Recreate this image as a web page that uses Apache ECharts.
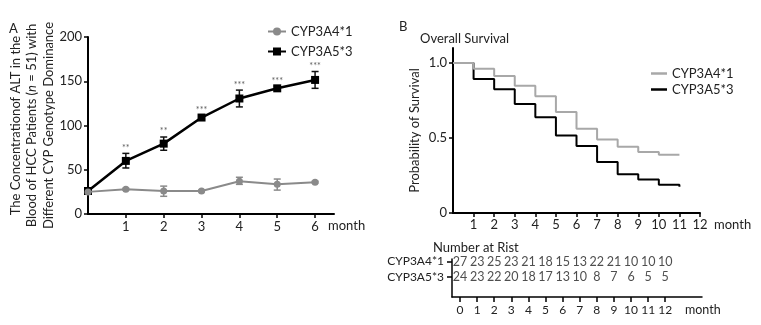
<!DOCTYPE html>
<html><head><meta charset="utf-8">
<script src="https://cdn.jsdelivr.net/npm/echarts@6/dist/echarts.min.js"></script>
<style>html,body{margin:0;padding:0;background:#fff}#c{width:761px;height:325px}</style>
</head><body><div id="c"></div>
<script>
// Panel A data (ALT concentration)
const months = [0, 1, 2, 3, 4, 5, 6];
const cyp5Mean = [26, 60, 79.5, 109, 130.5, 142, 151.5];
const cyp5Low  = [26, 52, 72, 107, 121, 140, 142];
const cyp5High = [26, 68.5, 87, 111, 140, 144.5, 161];
const cyp4Mean = [25, 28, 26, 26, 37, 33.5, 36];
const cyp4Low  = [25, 27, 20, 25, 33.5, 27, 35];
const cyp4High = [25, 29, 31.5, 27, 41.5, 39.5, 37];
const stars = ['', '**', '**', '***', '***', '***', '***'];
// Panel B data (Kaplan-Meier)
const kmTimes = [0, 1, 2, 3, 4, 5, 6, 7, 8, 9, 10, 11];
const km4 = [1.0, 0.962, 0.913, 0.849, 0.778, 0.674, 0.562, 0.49, 0.442, 0.406, 0.389, 0.389];
const km5 = [1.0, 0.893, 0.825, 0.727, 0.639, 0.517, 0.446, 0.34, 0.259, 0.223, 0.188, 0.175];
// Number at risk
const riskTimes = [0, 1, 2, 3, 4, 5, 6, 7, 8, 9, 10, 11, 12];
const risk4 = [27, 23, 25, 23, 21, 18, 15, 13, 22, 21, 10, 10, 10];
const risk5 = [24, 23, 22, 20, 18, 17, 13, 10, 8, 7, 6, 5, 5];
const groupNames = ['CYP3A4*1', 'CYP3A5*3'];

const FF = 'Lato';
const TXT = '#222';
const GRAY_A = '#8a8a8a';
const GRAY_B = '#a8a8a8';

function errSeries(name, low, high, color) {
  return {
    type: 'custom', xAxisIndex: 0, yAxisIndex: 0, z: 3, silent: true,
    data: months.map((m, i) => [m, low[i], high[i]]),
    renderItem: function (params, api) {
      const x = api.value(0), lo = api.value(1), hi = api.value(2);
      if (hi - lo < 0.01) return null;
      const p1 = api.coord([x, lo]), p2 = api.coord([x, hi]);
      const w = 3.5;
      const st = { stroke: color, lineWidth: 1.5 };
      return { type: 'group', children: [
        { type: 'line', shape: { x1: p1[0], y1: p1[1], x2: p2[0], y2: p2[1] }, style: st },
        { type: 'line', shape: { x1: p1[0] - w, y1: p1[1], x2: p1[0] + w, y2: p1[1] }, style: st },
        { type: 'line', shape: { x1: p2[0] - w, y1: p2[1], x2: p2[0] + w, y2: p2[1] }, style: st }
      ]};
    }
  };
}

const chart = echarts.init(document.getElementById('c'), null, { renderer: 'canvas' });
const axisLineStyle = { onZero: false, lineStyle: { color: '#000', width: 2 } };
const thinLine = { onZero: false, lineStyle: { color: '#000', width: 1.5 } };
const option = {
  animation: false,
  textStyle: { fontFamily: FF, color: TXT },
  grid: [
    { left: 88, top: 37, width: 246, height: 177 },
    { left: 453, top: 48, width: 247, height: 165 },
    { left: 452, top: 259, width: 250, height: 38 }
  ],
  xAxis: [
    { gridIndex: 0, type: 'value', min: 0, max: 6.5, axisLine: axisLineStyle,
      splitLine: { show: false },
      axisTick: { length: 4, lineStyle: { color: '#000', width: 1.5 }, customValues: [1, 2, 3, 4, 5, 6] },
      axisLabel: { customValues: [1, 2, 3, 4, 5, 6], fontSize: 13, color: TXT, margin: 6, fontFamily: FF },
      name: 'month', nameLocation: 'end', nameGap: -6, nameMoveOverlap: false,
      nameTextStyle: { fontSize: 13, color: TXT, fontFamily: FF, verticalAlign: 'top', padding: [5, 0, 0, 0] } },
    { gridIndex: 1, type: 'value', min: 0, max: 12, axisLine: axisLineStyle,
      splitLine: { show: false },
      axisTick: { length: 4, lineStyle: { color: '#000', width: 1.5 }, customValues: [1,2,3,4,5,6,7,8,9,10,11,12] },
      axisLabel: { customValues: [1,2,3,4,5,6,7,8,9,10,11,12], fontSize: 13, color: TXT, margin: 5, fontFamily: FF },
      name: 'month', nameLocation: 'end', nameGap: 14, nameMoveOverlap: false,
      nameTextStyle: { fontSize: 13, color: TXT, fontFamily: FF, verticalAlign: 'top', padding: [5, 0, 0, 0] } },
    { gridIndex: 2, type: 'value', min: -0.47, max: 14.15, axisLine: thinLine,
      splitLine: { show: false },
      axisTick: { length: 5, lineStyle: { color: '#000', width: 1.5 }, customValues: riskTimes },
      axisLabel: { customValues: riskTimes, fontSize: 12, color: TXT, margin: 7, fontFamily: FF } }
  ],
  yAxis: [
    { gridIndex: 0, type: 'value', min: 0, max: 200, interval: 50, axisLine: axisLineStyle,
      splitLine: { show: false },
      axisTick: { show: true, length: 4, lineStyle: { color: '#000', width: 1.5 } },
      axisLabel: { fontSize: 13, color: TXT, margin: 6, fontFamily: FF },
      name: 'The Concentrationof ALT in the\nBlood of HCC Patients ({i|n} = 51) with\nDifferent CYP Genotype Dominance',
      nameLocation: 'middle', nameRotate: 90, nameGap: 31, nameMoveOverlap: false,
      nameTextStyle: { fontSize: 13, color: TXT, fontFamily: FF, lineHeight: 16.5,
        rich: { i: { fontStyle: 'italic', fontSize: 13, fontFamily: FF, color: TXT, lineHeight: 16.5 } } } },
    { gridIndex: 1, type: 'value', min: 0, max: 1.1, axisLine: axisLineStyle,
      splitLine: { show: false },
      axisTick: { show: true, length: 4, lineStyle: { color: '#000', width: 1.5 }, customValues: [0, 0.5, 1] },
      axisLabel: { customValues: [0, 0.5, 1], fontSize: 13, color: TXT, margin: 6, fontFamily: FF,
        formatter: v => v === 0 ? '0' : v.toFixed(1) },
      name: 'Probability of Survival', nameLocation: 'middle', nameRotate: 90, nameGap: 32, nameMoveOverlap: false,
      nameTextStyle: { fontSize: 13, color: TXT, fontFamily: FF } },
    { gridIndex: 2, type: 'value', min: 0, max: 7.5, axisLine: thinLine,
      splitLine: { show: false },
      axisTick: { show: true, length: 5, lineStyle: { color: '#000', width: 1.5 }, customValues: [4, 7] },
      axisLabel: { customValues: [4, 7], fontSize: 12, color: TXT, margin: 8, fontFamily: FF,
        formatter: v => v === 7 ? groupNames[0] : groupNames[1] } }
  ],
  legend: [
    { left: 267, top: 25, padding: 0, orient: 'vertical', itemWidth: 18, itemHeight: 10, itemGap: 7,
      data: ['CYP3A4*1', 'CYP3A5*3'],
      textStyle: { fontSize: 13, color: TXT, fontFamily: FF } },
    { left: 651, top: 67, padding: 0, orient: 'vertical', itemWidth: 16, itemHeight: 2.5, itemGap: 3, icon: 'rect',
      data: ['B:CYP3A4*1', 'B:CYP3A5*3'], formatter: n => n.replace(/^B:/, ''),
      textStyle: { fontSize: 13, color: TXT, fontFamily: FF } }
  ],
  graphic: [
    { type: 'text', left: 9, top: 22, style: { text: 'A', fontSize: 13, fontFamily: FF, fill: TXT } },
    { type: 'text', left: 399, top: 20, style: { text: 'B', fontSize: 13, fontFamily: FF, fill: TXT } },
    { type: 'text', left: 420, top: 32, style: { text: 'Overall Survival', fontSize: 13, fontFamily: FF, fill: TXT } },
    { type: 'text', left: 433, top: 241, style: { text: 'Number at Rist', fontSize: 13, fontFamily: FF, fill: TXT } },
    { type: 'text', left: 685, top: 303, style: { text: 'month', fontSize: 12.5, fontFamily: FF, fill: TXT } }
  ],
  series: [
    errSeries('e5', cyp5Low, cyp5High, '#111'),
    errSeries('e4', cyp4Low, cyp4High, GRAY_A),
    { name: 'CYP3A5*3', type: 'line', xAxisIndex: 0, yAxisIndex: 0, z: 4,
      data: months.map((m, i) => [m, cyp5Mean[i]]),
      symbol: 'rect', symbolSize: 8, itemStyle: { color: '#000' },
      lineStyle: { color: '#000', width: 2.5 } },
    { name: 'CYP3A4*1', type: 'line', xAxisIndex: 0, yAxisIndex: 0, z: 5,
      data: months.map((m, i) => [m, cyp4Mean[i]]),
      symbol: 'circle', symbolSize: 7, itemStyle: { color: GRAY_A },
      lineStyle: { color: GRAY_A, width: 2 } },
    { name: 'stars', type: 'scatter', xAxisIndex: 0, yAxisIndex: 0, symbolSize: 0, silent: true,
      data: months.map((m, i) => [m, cyp5High[i], stars[i]]),
      label: { show: true, position: 'top', distance: 1, formatter: p => p.value[2],
        fontSize: 9, color: '#333', fontFamily: FF } },
    { name: 'B:CYP3A5*3', type: 'line', xAxisIndex: 1, yAxisIndex: 1, step: 'end', symbol: 'none', z: 3,
      data: kmTimes.map((t, i) => [t, km5[i]]),
      itemStyle: { color: '#000' }, lineStyle: { color: '#000', width: 2 } },
    { name: 'B:CYP3A4*1', type: 'line', xAxisIndex: 1, yAxisIndex: 1, step: 'end', symbol: 'none', z: 4,
      data: kmTimes.map((t, i) => [t, km4[i]]),
      itemStyle: { color: GRAY_B }, lineStyle: { color: GRAY_B, width: 2 } },
    { name: 'risk4', type: 'scatter', xAxisIndex: 2, yAxisIndex: 2, symbolSize: 0, silent: true,
      data: riskTimes.map((t, i) => [t, 7, risk4[i]]),
      label: { show: true, position: 'inside', formatter: p => String(p.value[2]), fontSize: 12.5, color: TXT, fontFamily: FF } },
    { name: 'risk5', type: 'scatter', xAxisIndex: 2, yAxisIndex: 2, symbolSize: 0, silent: true,
      data: riskTimes.map((t, i) => [t, 4, risk5[i]]),
      label: { show: true, position: 'inside', formatter: p => String(p.value[2]), fontSize: 12.5, color: TXT, fontFamily: FF } }
  ]
};
chart.setOption(option);
</script>
</body></html>
